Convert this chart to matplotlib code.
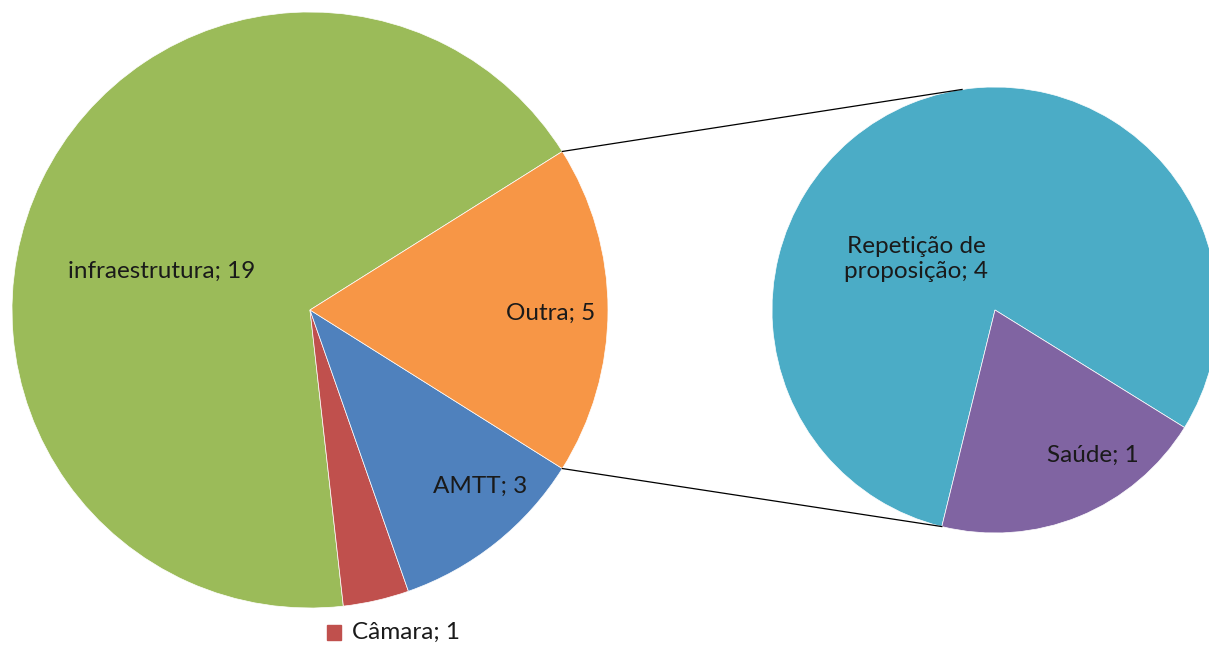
import matplotlib.pyplot as plt
import numpy as np

# data
main_labels = ['infraestrutura', 'Câmara', 'AMTT', 'Outra']
main_values = [19, 1, 3, 5]
main_colors = ['#9BBB59', '#C0504D', '#4F81BD', '#F79646']

sec_labels = ['Repetição de\nproposição', 'Saúde']
sec_values = [4, 1]
sec_colors = ['#4BACC6', '#8064A2']

W, H = 1209, 646
fig = plt.figure(figsize=(W / 100, H / 100), dpi=100)
ax = fig.add_axes([0, 0, 1, 1])

plt.rcParams['font.family'] = ['Lato', 'DejaVu Sans']

# main pie (pixel coords, y flipped)
c1 = (310, H - 310)
r1 = 298
other_share = main_values[-1] / sum(main_values) * 360
start1 = other_share / 2
ax.pie(main_values, colors=main_colors, startangle=start1, center=c1, radius=r1,
       wedgeprops=dict(edgecolor='white', linewidth=0.5), frame=True)

# secondary pie
c2 = (995, H - 310)
r2 = 223
start2 = -31.8
ax.pie(sec_values, colors=sec_colors, startangle=start2, center=c2, radius=r2,
       wedgeprops=dict(edgecolor='white', linewidth=0.5), frame=True)
ax.set_xlim(0, W)
ax.set_ylim(0, H)
ax.set_aspect('equal')
ax.axis('off')

# connector lines
def pt(c, r, ang):
    a = np.deg2rad(ang)
    return c[0] + r * np.cos(a), c[1] + r * np.sin(a)

saude_end = start2 + 360 * sec_values[0] / sum(sec_values)
p1 = pt(c1, r1, start1)
p2 = pt(c1, r1, -start1)
q1 = pt(c2, r2, 98.5)
q2 = pt(c2, r2, saude_end)
ax.plot([p1[0], q1[0]], [p1[1], q1[1]], color='black', lw=0.9)
ax.plot([p2[0], q2[0]], [p2[1], q2[1]], color='black', lw=0.9)

# labels
fs = 17.5
tc = '#1a1a1a'
ax.text(162, H - 271, f'{main_labels[0]}; {main_values[0]}', fontsize=fs, color=tc, ha='center', va='center')
ax.text(551, H - 313, f'{main_labels[3]}; {main_values[3]}', fontsize=fs, color=tc, ha='center', va='center')
ax.text(480, H - 486, f'{main_labels[2]}; {main_values[2]}', fontsize=fs, color=tc, ha='center', va='center')
ax.text(916, H - 259, f'{sec_labels[0]}; {sec_values[0]}', fontsize=fs, color=tc, ha='center', va='center',
        linespacing=1.2)
ax.text(1093, H - 455, f'{sec_labels[1]}; {sec_values[1]}', fontsize=fs, color=tc, ha='center', va='center')

# Câmara label below with square marker
ax.add_patch(plt.Rectangle((327, H - 640), 14, 15, color=main_colors[1]))
ax.text(352, H - 632, f'{main_labels[1]}; {main_values[1]}', fontsize=fs, color=tc, ha='left', va='center')

fig.savefig('out.png', dpi=100)
